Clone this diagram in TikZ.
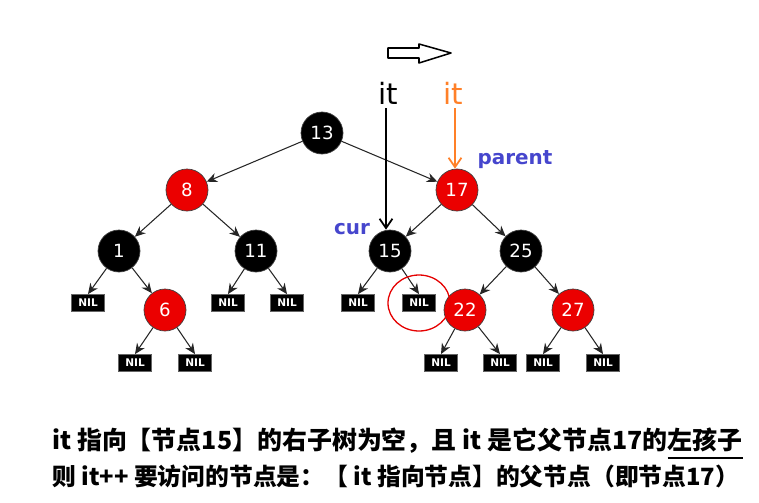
\documentclass[tikz,border=0pt]{standalone}
\usepackage{fontspec}
\setsansfont{DejaVu Sans}
\newfontfamily\cjk{Noto Sans CJK SC}
\usepackage{xcolor}
\usetikzlibrary{arrows.meta,positioning}

\definecolor{itorange}{RGB}{255,128,40}
\definecolor{lblblue}{RGB}{70,70,205}
\definecolor{rbred}{RGB}{235,0,0}

\tikzset{
  rbnode/.style={circle,minimum size=1.26cm,inner sep=0pt,draw=black!75,line width=0.6pt,
    text=white,font=\sffamily\fontsize{15.5}{15.5}\selectfont},
  blk/.style={rbnode,fill=black},
  rd/.style={rbnode,fill=rbred},
  nilbox/.style={rectangle,fill=black,draw=black!60,minimum width=1.0cm,minimum height=0.52cm,
    inner sep=0pt,text=white,font=\sffamily\bfseries\fontsize{9}{9}\selectfont},
  edge/.style={-{Stealth[length=9pt,width=8pt]},black!85,line width=0.9pt},
  itarrow/.style={-{Straight Barb[length=8pt,width=11pt]},line width=1.5pt},
  lbl/.style={font=\sffamily\bfseries\fontsize{17}{17}\selectfont,text=lblblue},
  txt/.style={font=\cjk\bfseries\fontsize{21.3}{25}\selectfont,inner sep=0pt,anchor=base west}
}

\begin{document}
\begin{tikzpicture}[x=0.03cm,y=-0.03cm,>=Stealth,line join=round]
  \useasboundingbox (0,0) rectangle (759,502);
  % tree nodes
  \node[blk] (n13) at (322,133) {13};
  \node[rd]  (n8)  at (187,190) {8};
  \node[rd]  (n17) at (457,190) {17};
  \node[blk] (n1)  at (119,251) {1};
  \node[blk] (n11) at (256,251) {11};
  \node[blk] (n15) at (390,251) {15};
  \node[blk] (n25) at (521,251) {25};
  \node[rd]  (n6)  at (165,310) {6};
  \node[rd]  (n22) at (465,310) {22};
  \node[rd]  (n27) at (573,310) {27};
  % NIL leaves
  \node[nilbox] (nA) at (88,303)  {NIL};
  \node[nilbox] (nB) at (228,303) {NIL};
  \node[nilbox] (nC) at (287,303) {NIL};
  \node[nilbox] (nD) at (358,303) {NIL};
  \node[nilbox] (nE) at (419,303) {NIL};
  \node[nilbox] (nF) at (135,363) {NIL};
  \node[nilbox] (nG) at (195,363) {NIL};
  \node[nilbox] (nH) at (441,363) {NIL};
  \node[nilbox] (nI) at (500,363) {NIL};
  \node[nilbox] (nJ) at (543,363) {NIL};
  \node[nilbox] (nK) at (603,363) {NIL};
  % edges
  \draw[edge] (n13) -- (n8);
  \draw[edge] (n13) -- (n17);
  \draw[edge] (n8) -- (n1);
  \draw[edge] (n8) -- (n11);
  \draw[edge] (n17) -- (n15);
  \draw[edge] (n17) -- (n25);
  \draw[edge] (n1) -- (nA.north);
  \draw[edge] (n1) -- (n6);
  \draw[edge] (n11) -- (nB.north);
  \draw[edge] (n11) -- (nC.north);
  \draw[edge] (n15) -- (nD.north);
  \draw[edge] (n15) -- (nE.north);
  \draw[edge] (n25) -- (n22);
  \draw[edge] (n25) -- (n27);
  \draw[edge] (n6) -- (nF.north);
  \draw[edge] (n6) -- (nG.north);
  \draw[edge] (n22) -- (nH.north);
  \draw[edge] (n22) -- (nI.north);
  \draw[edge] (n27) -- (nJ.north);
  \draw[edge] (n27) -- (nK.north);
  % red ring round the empty right child
  \draw[red!90!black,line width=1.1pt] (nE) ellipse (31 and 28);
  % iterators
  \draw[line width=1.3pt,fill=white] (388,48) -- (419,48) -- (419,44) -- (451,53)
    -- (419,63) -- (419,58) -- (388,58) -- cycle;
  \node[font=\sffamily\fontsize{25}{25}\selectfont] (itold) at (388,93) {it};
  \node[font=\sffamily\fontsize{25}{25}\selectfont,text=itorange] (itnew) at (453,93) {it};
  \draw[itarrow] (itold.south) ++(-2,0) coordinate (itoldb) -- (itoldb |- n15.north);
  \draw[itarrow,itorange] (itnew.south) ++(2,0) coordinate (itnewb) -- (itnewb |- n17.north);
  \node[lbl] (lparent) at (515,160) {parent};
  \node[lbl] (lcur) at (352,229) {cur};
  % explanation
  \node[txt] (l1a) at (52,449) {it 指向【节点15】的右子树为空，且 it 是它父节点17的};
  \node[txt,right=0pt of l1a.base east,anchor=base west] (l1b) {左孩子};
  \draw[line width=1.8pt] ([yshift=-8pt]l1b.base west) -- ([yshift=-8pt]l1b.base east);
  \node[txt,font=\cjk\bfseries\fontsize{20.3}{25}\selectfont] (l2) at (52,485)
    {则 it++ 要访问的节点是：【 it 指向节点】的父节点（即节点17）};
\end{tikzpicture}
\end{document}
